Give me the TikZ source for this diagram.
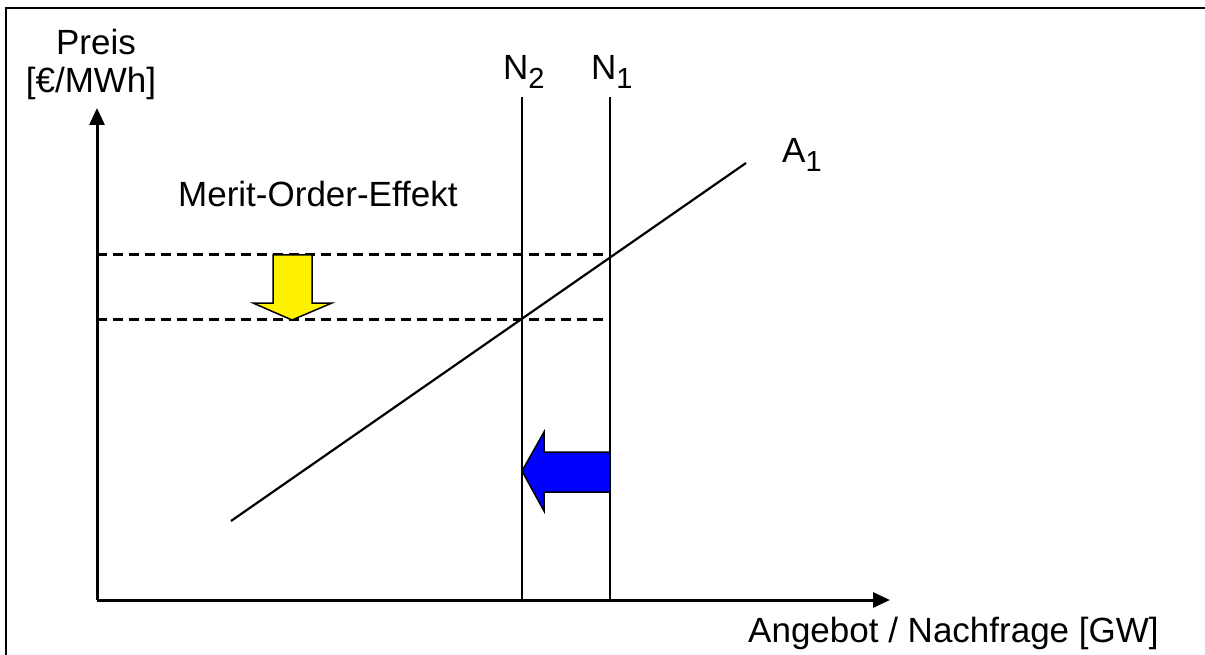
\documentclass[tikz,border=0pt]{standalone}
\usepackage{fontspec}
\setmainfont{Liberation Sans}
\usetikzlibrary{arrows.meta}
\newcommand{\lbl}{\fontsize{35}{40}\selectfont}
\newcommand{\subidx}[1]{\raisebox{-9pt}{\fontsize{29}{30}\selectfont #1}}
\begin{document}
\begin{tikzpicture}[x=1pt,y=-1pt,
  axis/.style={line width=3pt,-{Triangle[length=17pt,width=15pt]}},
  vline/.style={line width=2.2pt},
  dashline/.style={line width=3pt,dash pattern=on 10pt off 6pt},
  txt/.style={inner sep=0pt,anchor=base west,font=\lbl},
  frame/.style={line width=2.5pt}]
\useasboundingbox (0,0) rectangle (1205,655);
% frame
\coordinate (fb) at (6,655);
\coordinate (fc) at (6,8);
\coordinate (fr) at (1205,8);
\draw[frame] (fb) -- (fc) -- (fr);
% coordinates
\coordinate (O) at (97,600);
\coordinate (ytip) at (97,108);
\coordinate (xtip) at (890,600);
\coordinate (N2t) at (522,97);
\coordinate (N2b) at (522,600);
\coordinate (N1t) at (610,97);
\coordinate (N1b) at (610,600);
\coordinate (As) at (231,521);
\coordinate (Ae) at (746,163);
\coordinate (d1l) at (97,255);
\coordinate (d1r) at (610,255);
\coordinate (d2l) at (97,319);
\coordinate (d2r) at (610,319);
% lines
\draw[vline] (N2t) -- (N2b);
\draw[vline] (As) -- (Ae);
\draw[dashline] (d1l) -- (d1r);
\draw[dashline] (d2l) -- (d2r);
% yellow arrow
\draw[line width=1.5pt,fill=yellow,line join=miter]
  (273,255) -- (312,255) -- (312,303) -- (332,303) -- (292,320)
  -- (253,303) -- (273,303) -- cycle;
% blue arrow
\draw[line width=1.5pt,fill=blue,line join=miter]
  (610,452) -- (544,452) -- (544,432) -- (522,471) -- (544,511)
  -- (544,492) -- (610,492);
\draw[vline] (N1t) -- (N1b);
% axes
\draw[axis] (O) -- (ytip);
\draw[axis] (O) -- (xtip);
% texts
\node[txt,anchor=base] (preis) at (96,55) {Preis};
\node[txt,anchor=base] (unit) at (91,93) {[€/MWh]};
\node[txt] (n2) at (503,80) {N\subidx{2}};
\node[txt] (n1) at (591,80) {N\subidx{1}};
\node[txt] (a1) at (782,163) {A\subidx{1}};
\node[txt] (moe) at (178,207) {Merit-Order-Effekt};
\node[txt] (xl) at (748,642) {Angebot / Nachfrage [GW]};
\end{tikzpicture}
\end{document}
